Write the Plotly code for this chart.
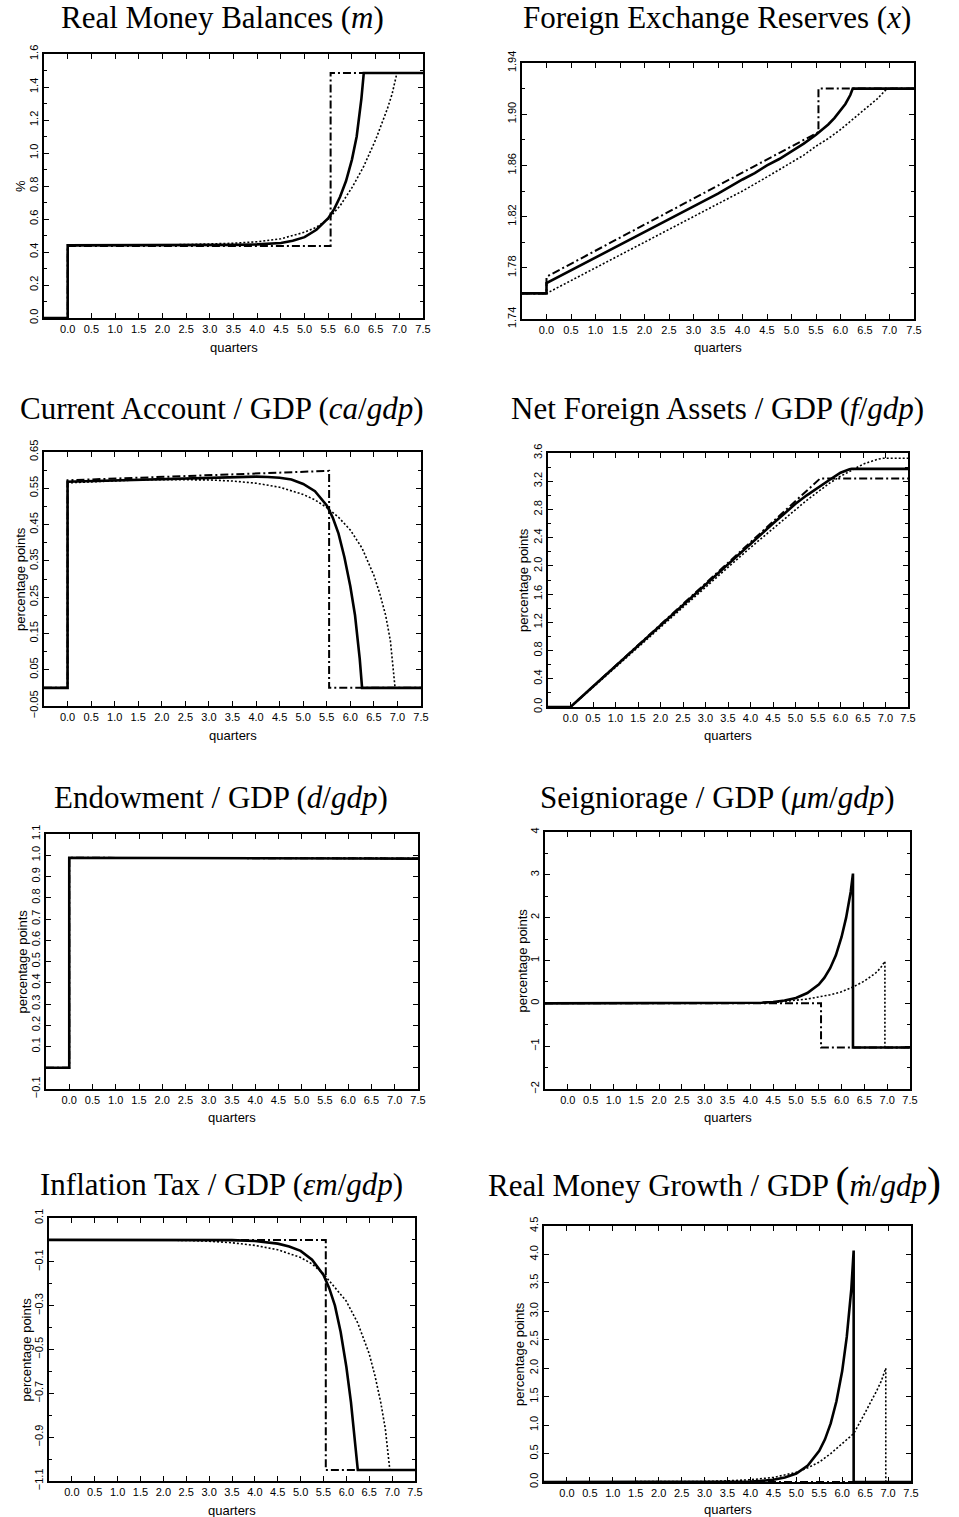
import plotly.graph_objects as go

W, H = 959, 1517

# time grids in quarters; a repeated value marks a jump
T_SOLID = [-0.5, 0.0, 0.0, 0.5, 1.0, 1.5, 2.0, 2.5, 3.0, 3.5, 4.0, 4.25, 4.5, 4.75,
           5.0, 5.25, 5.5, 5.625, 5.75, 5.875, 6.0, 6.1, 6.2, 6.25, 6.25, 7.5]
T_DOTTED = [-0.5, 0.0, 0.0, 0.5, 1.0, 1.5, 2.0, 2.5, 3.0, 3.5, 4.0, 4.5, 5.0, 5.25,
            5.5, 5.75, 6.0, 6.25, 6.5, 6.625, 6.75, 6.85, 6.95, 6.95, 7.5]
T_DASHDOT = [-0.5, 0.0, 0.0, 5.55, 5.55, 7.5]

X_TICKS = [0.0, 0.5, 1.0, 1.5, 2.0, 2.5, 3.0, 3.5, 4.0, 4.5, 5.0, 5.5, 6.0, 6.5, 7.0, 7.5]
X_LABELS = ["0.0", "0.5", "1.0", "1.5", "2.0", "2.5", "3.0", "3.5", "4.0", "4.5",
            "5.0", "5.5", "6.0", "6.5", "7.0", "7.5"]

# real money balances (m)
M_SOLID = [0.0, 0.0, 0.44, 0.44, 0.44, 0.44, 0.441, 0.441, 0.442, 0.443, 0.446, 0.449, 0.455,
           0.468, 0.49, 0.535, 0.605, 0.66, 0.735, 0.83, 0.96, 1.1, 1.33, 1.485, 1.485, 1.485]
M_DOTTED = [0.0, 0.0, 0.44, 0.44, 0.441, 0.442, 0.443, 0.445, 0.448, 0.453, 0.462, 0.48, 0.52,
            0.55, 0.60, 0.68, 0.79, 0.92, 1.08, 1.17, 1.27, 1.36, 1.485, 1.485, 1.485]
M_DASHDOT = [0.0, 0.0, 0.437, 0.437, 1.485, 1.485]
M_TICKS = [0.0, 0.2, 0.4, 0.6, 0.8, 1.0, 1.2, 1.4, 1.6]
M_LABELS = ["0.0", "0.2", "0.4", "0.6", "0.8", "1.0", "1.2", "1.4", "1.6"]

# foreign exchange reserves (x)
X_SOLID = [1.76, 1.76, 1.768, 1.778, 1.788, 1.798, 1.808, 1.818, 1.828, 1.838, 1.849, 1.854, 1.860,
           1.865, 1.871, 1.877, 1.884, 1.888, 1.892, 1.897, 1.903, 1.908, 1.915, 1.92, 1.92, 1.92]
X_DOTTED = [1.76, 1.76, 1.76, 1.770, 1.780, 1.790, 1.800, 1.810, 1.820, 1.830, 1.840, 1.851, 1.862,
            1.868, 1.875, 1.881, 1.888, 1.896, 1.904, 1.908, 1.912, 1.916, 1.92, 1.92, 1.92]
X_DASHDOT = [1.76, 1.76, 1.773, 1.886, 1.92, 1.92]
X_YTICKS = [1.74, 1.78, 1.82, 1.86, 1.90, 1.94]
X_YLABELS = ["1.74", "1.78", "1.82", "1.86", "1.90", "1.94"]

# current account / gdp
CA_SOLID = [0.0, 0.0, 0.568, 0.570, 0.572, 0.574, 0.576, 0.578, 0.579, 0.581, 0.582, 0.581, 0.579,
            0.574, 0.562, 0.542, 0.503, 0.47, 0.425, 0.36, 0.28, 0.2, 0.08, 0.0, 0.0, 0.0]
CA_DOTTED = [0.0, 0.0, 0.565, 0.568, 0.571, 0.573, 0.574, 0.574, 0.573, 0.570, 0.564, 0.553, 0.533,
             0.518, 0.497, 0.47, 0.435, 0.385, 0.31, 0.26, 0.2, 0.13, 0.0, 0.0, 0.0]
CA_DASHDOT = [0.0, 0.0, 0.572, 0.598, 0.0, 0.0]
CA_TICKS = [-0.05, 0.05, 0.15, 0.25, 0.35, 0.45, 0.55, 0.65]
CA_LABELS = ["\u22120.05", "0.05", "0.15", "0.25", "0.35", "0.45", "0.55", "0.65"]

# net foreign assets / gdp
F_SOLID = [0.0, 0.0, 0.0, 0.29, 0.58, 0.87, 1.16, 1.45, 1.74, 2.03, 2.32, 2.46, 2.6,
           2.74, 2.88, 3.0, 3.11, 3.17, 3.22, 3.27, 3.32, 3.35, 3.37, 3.375, 3.375, 3.375]
F_DOTTED = [0.0, 0.0, 0.0, 0.28, 0.565, 0.85, 1.13, 1.415, 1.7, 1.98, 2.26, 2.53, 2.8,
            2.93, 3.05, 3.17, 3.27, 3.36, 3.44, 3.47, 3.5, 3.515, 3.525, 3.525, 3.525]
F_DASHDOT = [0.0, 0.0, 0.0, 3.24, 3.24, 3.24]
F_TICKS = [0.0, 0.4, 0.8, 1.2, 1.6, 2.0, 2.4, 2.8, 3.2, 3.6]
F_LABELS = ["0.0", "0.4", "0.8", "1.2", "1.6", "2.0", "2.4", "2.8", "3.2", "3.6"]

# endowment / gdp
D_SOLID = [0.0, 0.0, 0.988, 0.988, 0.988, 0.988, 0.988, 0.988, 0.988, 0.988, 0.988, 0.988, 0.988,
           0.988, 0.988, 0.988, 0.988, 0.987, 0.987, 0.987, 0.986, 0.986, 0.986, 0.985, 0.985, 0.984]
D_DOTTED = [0.0, 0.0, 0.988, 0.988, 0.988, 0.988, 0.988, 0.988, 0.988, 0.988, 0.988, 0.988, 0.988,
            0.988, 0.988, 0.987, 0.987, 0.986, 0.986, 0.985, 0.985, 0.985, 0.985, 0.985, 0.984]
D_DASHDOT = [0.0, 0.0, 0.988, 0.987, 0.986, 0.985]
D_TICKS = [-0.1, 0.0, 0.1, 0.2, 0.3, 0.4, 0.5, 0.6, 0.7, 0.8, 0.9, 1.0, 1.1]
D_LABELS = ["\u22120.1", "", "0.1", "0.2", "0.3", "0.4", "0.5", "0.6", "0.7", "0.8", "0.9", "1.0", "1.1"]

# seigniorage / gdp
S_SOLID = [0.0, 0.0, 0.0, 0.0, 0.0, 0.0, 0.0, 0.0, 0.0, 0.002, 0.005, 0.015, 0.03,
           0.065, 0.125, 0.24, 0.44, 0.6, 0.82, 1.12, 1.55, 2.0, 2.6, 3.03, -1.03, -1.03]
S_DOTTED = [0.0, 0.0, 0.0, 0.0, 0.0, 0.0, 0.0, 0.0, 0.0, 0.003, 0.008, 0.02, 0.07,
            0.1, 0.15, 0.2, 0.27, 0.38, 0.52, 0.61, 0.71, 0.82, 0.98, -1.03, -1.03]
S_DASHDOT = [0.0, 0.0, 0.0, 0.0, -1.03, -1.03]
S_TICKS = [-2, -1, 0, 1, 2, 3, 4]
S_LABELS = ["\u22122", "\u22121", "0", "1", "2", "3", "4"]

# inflation tax / gdp
IT_SOLID = [0.0, 0.0, 0.0, 0.0, 0.0, 0.0, 0.0, 0.0, 0.0, -0.001, -0.005, -0.01, -0.017,
            -0.03, -0.05, -0.09, -0.16, -0.22, -0.3, -0.42, -0.58, -0.74, -0.94, -1.05, -1.05, -1.05]
IT_DOTTED = [0.0, 0.0, 0.0, 0.0, 0.0, 0.0, 0.0, -0.002, -0.006, -0.013, -0.025, -0.045, -0.08,
             -0.11, -0.155, -0.215, -0.28, -0.38, -0.52, -0.62, -0.74, -0.86, -1.05, -1.05, -1.05]
IT_DASHDOT = [0.0, 0.0, 0.0, 0.0, -1.05, -1.05]
IT_TICKS = [-1.1, -0.9, -0.7, -0.5, -0.3, -0.1, 0.1]
IT_LABELS = ["\u22121.1", "\u22120.9", "\u22120.7", "\u22120.5", "\u22120.3", "\u22120.1", "0.1"]

# real money growth / gdp
MD_SOLID = [0.0, 0.0, 0.0, 0.0, 0.0, 0.0, 0.0, 0.0, 0.0, 0.003, 0.01, 0.02, 0.04,
            0.08, 0.15, 0.29, 0.55, 0.75, 1.03, 1.42, 1.95, 2.55, 3.4, 4.07, 0.0, 0.0]
MD_DOTTED = [0.0, 0.0, 0.0, 0.0, 0.0, 0.0, 0.0, 0.005, 0.01, 0.02, 0.04, 0.08, 0.17,
             0.25, 0.35, 0.5, 0.68, 0.85, 1.22, 1.4, 1.6, 1.77, 2.0, 0.0, 0.0]
MD_DASHDOT = [0.0, 0.0, 0.0, 0.0, 0.0, 0.0]
MD_TICKS = [0.0, 0.5, 1.0, 1.5, 2.0, 2.5, 3.0, 3.5, 4.0, 4.5]
MD_LABELS = ["0.0", "0.5", "1.0", "1.5", "2.0", "2.5", "3.0", "3.5", "4.0", "4.5"]

# frame boxes in pixels (left, top, right, bottom), title centre (x, y), y title x
PANELS = [
    dict(title="Real Money Balances (<i>m</i>)", box=(44, 54, 423, 318), tpos=(222, 18),
         yrange=[0, 1.6], ticks=(M_TICKS, M_LABELS), minor=0.1, ytitle="%", ytx=20, qy=347,
         data=(M_SOLID, M_DOTTED, M_DASHDOT)),
    dict(title="Foreign Exchange Reserves (<i>x</i>)", box=(522, 63, 914, 319), tpos=(717, 18),
         yrange=[1.74, 1.94], ticks=(X_YTICKS, X_YLABELS), minor=0.02, ytitle="", ytx=500, qy=347,
         data=(X_SOLID, X_DOTTED, X_DASHDOT)),
    dict(title="Current Account / GDP (<i>ca</i>/<i>gdp</i>)", box=(44, 452, 421, 706), tpos=(222, 408),
         yrange=[-0.05, 0.65], ticks=(CA_TICKS, CA_LABELS), minor=0.05, ytitle="percentage points",
         ytx=20, qy=735, data=(CA_SOLID, CA_DOTTED, CA_DASHDOT)),
    dict(title="Net Foreign Assets / GDP (<i>f</i>/<i>gdp</i>)", box=(548, 453, 908, 707), tpos=(717, 408),
         yrange=[0, 3.6], ticks=(F_TICKS, F_LABELS), minor=0.2, ytitle="percentage points",
         ytx=523, qy=735, data=(F_SOLID, F_DOTTED, F_DASHDOT)),
    dict(title="Endowment / GDP (<i>d</i>/<i>gdp</i>)", box=(46, 834, 418, 1089), tpos=(221, 797),
         yrange=[-0.1, 1.1], ticks=(D_TICKS, D_LABELS), minor=None, ytitle="percentage points",
         ytx=22, qy=1117, data=(D_SOLID, D_DOTTED, D_DASHDOT)),
    dict(title="Seigniorage / GDP (<i>\u03bcm</i>/<i>gdp</i>)", box=(545, 832, 910, 1089), tpos=(717, 797),
         yrange=[-2, 4], ticks=(S_TICKS, S_LABELS), minor=0.5, ytitle="percentage points",
         ytx=522, qy=1117, data=(S_SOLID, S_DOTTED, S_DASHDOT)),
    dict(title="Inflation Tax / GDP (<i>\u03b5m</i>/<i>gdp</i>)", box=(49, 1218, 415, 1481), tpos=(221, 1184),
         yrange=[-1.1, 0.1], ticks=(IT_TICKS, IT_LABELS), minor=0.1, ytitle="percentage points",
         ytx=26, qy=1510, data=(IT_SOLID, IT_DOTTED, IT_DASHDOT)),
    dict(title="Real Money Growth / GDP <span style='font-size:42px'>(</span><i>\u1e41</i>/<i>gdp</i><span style='font-size:42px'>)</span>",
         box=(544, 1226, 911, 1482), tpos=(714, 1182),
         yrange=[0, 4.5], ticks=(MD_TICKS, MD_LABELS), minor=None, ytitle="percentage points",
         ytx=519, qy=1509, data=(MD_SOLID, MD_DOTTED, MD_DASHDOT)),
]

STYLES = [
    dict(width=2.6, dash="solid"),
    dict(width=1.6, dash="2px,2px"),
    dict(width=2, dash="8px,3px,2px,3px"),
]

TICK_FONT = dict(family="Liberation Sans", size=11, color="black")
LABEL_FONT = dict(family="Liberation Sans", size=13, color="black")
TITLE_FONT = dict(family="Liberation Serif", size=31, color="black")

fig = go.Figure()
annotations = []

for i, p in enumerate(PANELS):
    n = "" if i == 0 else str(i + 1)
    x0, y0, x1, y1 = p["box"]
    times = (T_SOLID, T_DOTTED, T_DASHDOT)
    # draw dotted and dash-dot first, solid on top
    for k in (1, 2, 0):
        fig.add_trace(go.Scatter(x=times[k], y=p["data"][k], mode="lines",
                                 line=dict(color="black", **STYLES[k]),
                                 xaxis="x" + n, yaxis="y" + n,
                                 showlegend=False, hoverinfo="skip"))

    axis_common = dict(showline=True, linewidth=2, linecolor="black", mirror="ticks",
                       ticks="inside", ticklen=5, tickwidth=1, tickcolor="black",
                       showgrid=False, zeroline=False, automargin=False, tickfont=TICK_FONT)
    fig.layout["xaxis" + n] = dict(domain=[x0 / W, x1 / W], anchor="y" + n, range=[-0.5, 7.5],
                                   tickmode="array", tickvals=X_TICKS, ticktext=X_LABELS,
                                   **axis_common)
    yax = dict(domain=[1 - y1 / H, 1 - y0 / H], anchor="x" + n, range=p["yrange"],
               tickmode="array", tickvals=p["ticks"][0], ticktext=p["ticks"][1],
               tickangle=-90, **axis_common)
    if p["minor"]:
        yax["minor"] = dict(ticks="inside", ticklen=3, tickwidth=1, tickcolor="black",
                            dtick=p["minor"], tick0=p["yrange"][0], showgrid=False)
    fig.layout["yaxis" + n] = yax

    annotations.append(dict(text=p["title"], x=p["tpos"][0] / W, y=1 - p["tpos"][1] / H,
                            xref="paper", yref="paper", xanchor="center", yanchor="middle",
                            showarrow=False, font=TITLE_FONT))
    annotations.append(dict(text="quarters", x=(x0 + x1) / 2 / W, y=1 - p["qy"] / H,
                            xref="paper", yref="paper", xanchor="center", yanchor="middle",
                            showarrow=False, font=LABEL_FONT))
    if p["ytitle"]:
        annotations.append(dict(text=p["ytitle"], x=p["ytx"] / W, y=1 - (y0 + y1) / 2 / H,
                                xref="paper", yref="paper", xanchor="center", yanchor="middle",
                                textangle=-90, showarrow=False, font=LABEL_FONT))

fig.update_layout(
    template="none",
    width=W, height=H,
    margin=dict(l=0, r=0, t=0, b=0),
    paper_bgcolor="white", plot_bgcolor="white",
    annotations=annotations,
)

# the page's default body margin would shift the fixed-size figure
fig.write_html("out.html", config={"displayModeBar": False},
               post_script="document.body.style.margin = '0';")
